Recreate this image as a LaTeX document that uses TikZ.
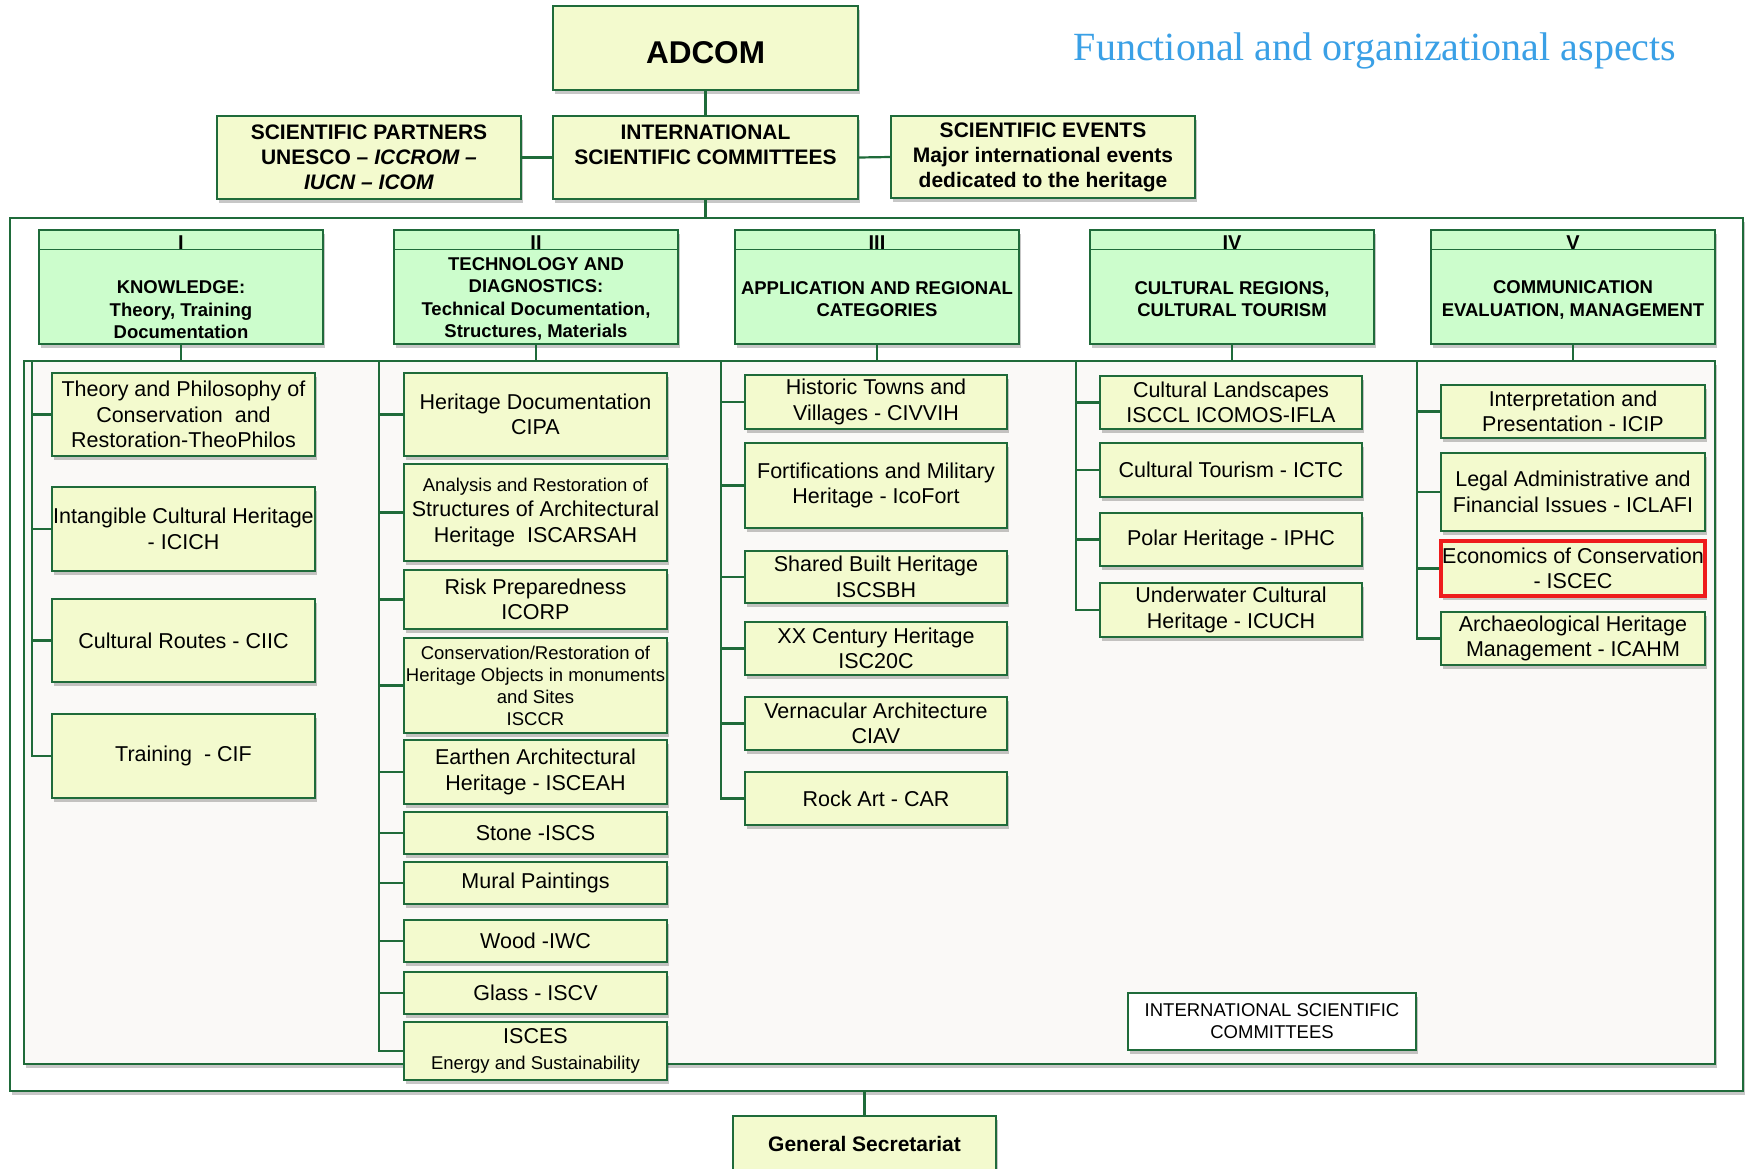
\documentclass[tikz,border=0pt]{standalone}
\usepackage{fontspec}
\setmainfont{Liberation Sans}
\newfontfamily\titlefont{Liberation Serif}
\usetikzlibrary{shadows}
\definecolor{dgreen}{HTML}{1F6B3A}
\definecolor{boxfill}{HTML}{F3FACE}
\definecolor{hdrfill}{HTML}{CCFDCC}
\definecolor{framefill}{HTML}{FAF9F7}
\definecolor{titleblue}{HTML}{3AA0E6}
\definecolor{alertred}{HTML}{EE1C1C}
\tikzset{
  boxshadow/.style={drop shadow={shadow xshift=1.5pt, shadow yshift=-4pt, opacity=.22, fill=black}},
  box/.style={draw=dgreen, fill=boxfill, line width=1.6pt, inner sep=0pt, align=center, boxshadow,
    font=\fontsize{21.5}{25.5}\selectfont},
  topbox/.style={box, font=\bfseries\fontsize{21}{25}\selectfont},
  col1/.style={box, minimum width=263pt},
  col2/.style={box, minimum width=263pt},
  col3/.style={box, minimum width=262pt},
  col4/.style={box, minimum width=262pt},
  col5/.style={box, minimum width=264pt},
  hdr/.style={draw=dgreen, fill=hdrfill, line width=1.6pt, boxshadow, minimum width=284pt, minimum height=114pt, inner sep=0pt},
  hdrtext/.style={align=center, inner sep=0pt, font=\bfseries\fontsize{18.5}{22.5}\selectfont},
  numeral/.style={anchor=base, inner sep=0pt, font=\bfseries\fontsize{20}{22}\selectfont},
  conn/.style={draw=dgreen, line width=2.2pt},
}
\begin{document}
\begin{tikzpicture}[x=1pt,y=-1pt]
\useasboundingbox (0,0) rectangle (1748,1168);
\clip (0,0) rectangle (1748,1168);
\fill[white] (0,0) rectangle (1748,1168);

% title
\node[font=\titlefont\fontsize{40}{42}\selectfont, text=titleblue, anchor=base, inner sep=0pt] (title)
  at (1375,60) {Functional and organizational aspects};

% frames
\node[draw=dgreen, fill=white, line width=1.6pt, boxshadow, minimum width=1733pt, minimum height=873pt, inner sep=0pt] (outer) at (876.5,654.5) {};
\node[draw=dgreen, fill=framefill, line width=1.2pt, boxshadow, minimum width=1691pt, minimum height=703pt, inner sep=0pt] (inner) at (869.5,712.5) {};

% top row
\node[topbox, minimum width=305pt, minimum height=84pt, text height=30pt, text depth=0pt,
  font=\bfseries\fontsize{31.5}{34}\selectfont] (adcom) at (705.5,48) {ADCOM};
\node[topbox, minimum width=304pt, minimum height=83pt] (part) at (369,157.5)
  {SCIENTIFIC PARTNERS\\UNESCO -- \textit{ICCROM --}\\\textit{IUCN -- ICOM}};
\node[topbox, minimum width=305pt, minimum height=83pt] (isc) at (705.5,157.5)
  {INTERNATIONAL\\SCIENTIFIC COMMITTEES\\\mbox{}};
\node[topbox, minimum width=304pt, minimum height=82pt] (events) at (1043,157)
  {SCIENTIFIC EVENTS\\Major international events\\dedicated to the heritage};

\draw[conn] (adcom.south) -- (isc.north);
\draw[conn] (part.east) -- (isc.west);
\draw[conn] (isc.east) -- (events.west);
\draw[conn] (isc.south) -- (isc.south |- outer.north);

% column headers
\foreach \n/\x/\r in {h1/181/I, h2/536/II, h3/877/III, h4/1232/IV, h5/1573/V}{
  \node[hdr] (\n) at (\x,287) {};
  \draw[dgreen, line width=1.2pt] ([yshift=-20pt]\n.north west) -- ([yshift=-20pt]\n.north east);
  \node[numeral] (\n num) at (\x,249) {\r};
}
\node[hdrtext] (h1txt) at (181,310) {KNOWLEDGE:\\Theory, Training\\Documentation};
\node[hdrtext] (h2txt) at (536,299) {TECHNOLOGY AND\\DIAGNOSTICS:\\Technical Documentation,\\Structures, Materials};
\node[hdrtext] (h3txt) at (877,299) {APPLICATION AND REGIONAL\\CATEGORIES};
\node[hdrtext] (h4txt) at (1232,299) {CULTURAL REGIONS,\\CULTURAL TOURISM};
\node[hdrtext] (h5txt) at (1573,300) {COMMUNICATION\\EVALUATION, MANAGEMENT};

% trunk tops
\coordinate (t1) at (32,361);
\coordinate (t2) at (379,361);
\coordinate (t3) at (721,361);
\coordinate (t4) at (1076,361);
\coordinate (t5) at (1417,361);

% column I
\node[col1, minimum height=83pt] (c1a) at (183.5,414.5) {Theory and Philosophy of\\Conservation\ \ and\\Restoration-TheoPhilos};
\node[col1, minimum height=84pt] (c1b) at (183.5,529) {Intangible Cultural Heritage\\- ICICH};
\node[col1, minimum height=83pt] (c1c) at (183.5,640.5) {Cultural Routes - CIIC};
\node[col1, minimum height=84pt] (c1d) at (183.5,756) {Training\ \ - CIF};

% column II
\node[col2, minimum height=83pt] (c2a) at (535.5,414.5) {Heritage Documentation\\CIPA};
\node[col2, minimum height=97pt] (c2b) at (535.5,512.5) {{\fontsize{18.5}{22}\selectfont Analysis and Restoration of}\\Structures of Architectural\\Heritage\ \ ISCARSAH};
\node[col2, minimum height=59pt] (c2c) at (535.5,599.5) {Risk Preparedness\\ICORP};
\node[col2, minimum height=95pt, font=\fontsize{18.5}{22}\selectfont] (c2d) at (535.5,685.5) {Conservation/Restoration of\\Heritage Objects in monuments\\and Sites\\ISCCR};
\node[col2, minimum height=64pt] (c2e) at (535.5,772) {Earthen Architectural\\Heritage - ISCEAH};
\node[col2, minimum height=42pt] (c2f) at (535.5,833) {Stone -ISCS};
\node[col2, minimum height=42pt] (c2g) at (535.5,883) {Mural Paintings};
\node[col2, minimum height=42pt] (c2h) at (535.5,941) {Wood -IWC};
\node[col2, minimum height=42pt] (c2i) at (535.5,993) {Glass - ISCV};
\node[col2, minimum height=58pt] (c2j) at (535.5,1051) {ISCES\\{\fontsize{18.5}{22}\selectfont Energy and Sustainability}};

% column III
\node[col3, minimum height=54pt] (c3a) at (876,402) {Historic Towns and\\Villages - CIVVIH};
\node[col3, minimum height=85pt] (c3b) at (876,485.5) {Fortifications and Military\\Heritage - IcoFort};
\node[col3, minimum height=52pt] (c3c) at (876,577) {Shared Built Heritage\\ISCSBH};
\node[col3, minimum height=53pt] (c3d) at (876,648.5) {XX Century Heritage\\ISC20C};
\node[col3, minimum height=53pt] (c3e) at (876,723.5) {Vernacular Architecture\\CIAV};
\node[col3, minimum height=53pt] (c3f) at (876,798.5) {Rock Art - CAR};

% column IV
\node[col4, minimum height=53pt] (c4a) at (1231,402.5) {Cultural Landscapes\\ISCCL ICOMOS-IFLA};
\node[col4, minimum height=54pt] (c4b) at (1231,470) {Cultural Tourism - ICTC};
\node[col4, minimum height=53pt] (c4c) at (1231,539.5) {Polar Heritage - IPHC};
\node[col4, minimum height=54pt] (c4d) at (1231,610) {Underwater Cultural\\Heritage - ICUCH};

% column V
\node[col5, minimum height=53pt] (c5a) at (1573,411.5) {Interpretation and\\Presentation - ICIP};
\node[col5, minimum height=78pt] (c5b) at (1573,492) {Legal Administrative and\\Financial Issues - ICLAFI};
\node[col5, minimum height=55pt, draw=alertred, line width=4.5pt] (c5c) at (1573,568.5) {Economics of Conservation\\- ISCEC};
\node[col5, minimum height=53pt] (c5d) at (1573,638.5) {Archaeological Heritage\\Management - ICAHM};

% trunks and branches
\draw[conn] (h1.south) |- (t1) -- (t1 |- c1d.west) -- (c1d.west);
\foreach \n in {c1a,c1b,c1c} \draw[conn] (t1 |- \n.west) -- (\n.west);
\draw[conn] (h2.south) |- (t2) -- (t2 |- c2j.west) -- (c2j.west);
\foreach \n in {c2a,c2b,c2c,c2d,c2e,c2f,c2g,c2h,c2i} \draw[conn] (t2 |- \n.west) -- (\n.west);
\draw[conn] (h3.south) |- (t3) -- (t3 |- c3f.west) -- (c3f.west);
\foreach \n in {c3a,c3b,c3c,c3d,c3e} \draw[conn] (t3 |- \n.west) -- (\n.west);
\draw[conn] (h4.south) |- (t4) -- (t4 |- c4d.west) -- (c4d.west);
\foreach \n in {c4a,c4b,c4c} \draw[conn] (t4 |- \n.west) -- (\n.west);
\draw[conn] (h5.south) |- (t5) -- (t5 |- c5d.west) -- (c5d.west);
\foreach \n in {c5a,c5b,c5c} \draw[conn] (t5 |- \n.west) -- (\n.west);

% legend box and secretariat
\node[box, fill=white, minimum width=288pt, minimum height=57pt, font=\fontsize{18.5}{22}\selectfont] (legend) at (1272,1021.5) {INTERNATIONAL SCIENTIFIC\\COMMITTEES};
\node[topbox, minimum width=263pt, minimum height=56pt] (gs) at (864.5,1144) {General Secretariat};
\draw[conn] (outer.south -| gs.north) -- (gs.north);
\end{tikzpicture}
\end{document}
